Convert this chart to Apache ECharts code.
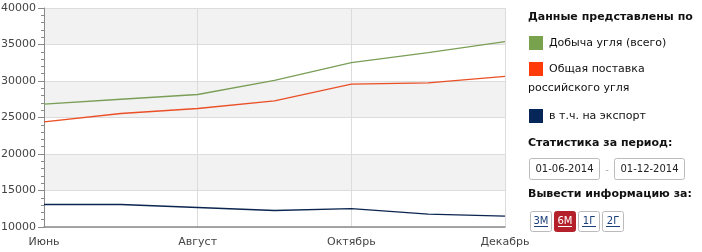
<!DOCTYPE html>
<html><head><meta charset="utf-8">
<script src="https://cdn.jsdelivr.net/npm/echarts@6/dist/echarts.min.js"></script>
<style>html,body{margin:0;padding:0;background:#fff}#c{width:702px;height:252px}</style>
</head><body><div id="c"></div>
<script>
const months = ['Июнь','Июль','Август','Сентябрь','Октябрь','Ноябрь','Декабрь'];
const seriesNames = ['Добыча угля (всего)','Общая поставка российского угля','в т.ч. на экспорт'];
const production = [26820, 27500, 28150, 30100, 32530, 33900, 35400];
const supply = [24400, 25550, 26230, 27270, 29560, 29740, 30620];
const exportVals = [13080, 13080, 12670, 12260, 12530, 11750, 11480];
const yTicks = [10000, 15000, 20000, 25000, 30000, 35000, 40000];
const periodFrom = '01-06-2014', periodTo = '01-12-2014';
const ranges = ['3М','6М','1Г','2Г'];

const lineColors = ['#7a9e57', '#ea4f26', '#0b2550'];
const swatchColors = ['#78a24e', '#ff3b0a', '#062659'];
const F = 'DejaVu Sans';

const chart = echarts.init(document.getElementById('c'), null, {renderer:'canvas'});
const mk = (name, data, i) => ({
  name, type:'line', data, symbol:'none', smooth:false,
  lineStyle:{color:lineColors[i], width:1.3}, itemStyle:{color:lineColors[i]},
  animation:false
});

const T = (x, y, text, font, fill, align) => ({type:'text', style:{x, y, text, font, fill, align:align||'left', verticalAlign:'middle'}});
const g = [];
g.push(T(528, 17, 'Данные представлены по', 'bold 11px "DejaVu Sans"', '#111'));
const legendTop = [36, 62, 109];
legendTop.forEach((t,i)=>{
  g.push({type:'rect', shape:{x:529, y:t, width:14, height:14}, style:{fill:swatchColors[i]}});
});
g.push(T(549, 43, 'Добыча угля (всего)', '11px "DejaVu Sans"', '#111'));
g.push(T(549, 69, 'Общая поставка', '11px "DejaVu Sans"', '#111'));
g.push(T(528, 88, 'российского угля', '11px "DejaVu Sans"', '#111'));
g.push(T(549, 116, 'в т.ч. на экспорт', '11px "DejaVu Sans"', '#111'));
g.push(T(528, 143, 'Статистика за период:', 'bold 11px "DejaVu Sans"', '#111'));
g.push({type:'rect', shape:{x:529.5, y:158.5, width:70, height:21, r:2}, style:{fill:'#fff', stroke:'#bbb'}});
g.push(T(564.5, 169, periodFrom, '10px "DejaVu Sans"', '#222', 'center'));
g.push(T(607, 170, '-', '10px "DejaVu Sans"', '#aaa', 'center'));
g.push({type:'rect', shape:{x:614.5, y:158.5, width:70, height:21, r:2}, style:{fill:'#fff', stroke:'#bbb'}});
g.push(T(649.5, 169, periodTo, '10px "DejaVu Sans"', '#222', 'center'));
g.push(T(528, 194, 'Вывести информацию за:', 'bold 11px "DejaVu Sans"', '#111'));
const btnX = [530, 554, 578, 602];
ranges.forEach((r,i)=>{
  const active = i===1;
  g.push({type:'rect', shape:{x:btnX[i]+0.5, y:211.5, width:21, height:20, r:2}, style:{fill:active?'#b5212b':'#fff', stroke:active?'#b5212b':'#bbb'}});
  g.push(T(btnX[i]+11, 221, r, '10px "DejaVu Sans"', active?'#fff':'#1a3f7a', 'center'));
  g.push({type:'line', shape:{x1:btnX[i]+4, y1:226.5, x2:btnX[i]+18, y2:226.5}, style:{stroke:active?'#fff':'#1a3f7a', lineWidth:1}});
});

chart.setOption({
  animation:false,
  grid:{left:44, right:197, top:8, bottom:25, containLabel:false, outerBoundsMode:'none'},
  xAxis:{type:'category', data:months, boundaryGap:false,
    axisLine:{lineStyle:{color:'#8a8a8a', width:1.5}},
    axisTick:{show:false},
    axisLabel:{interval:1, color:'#444', fontFamily:F, fontSize:11, margin:10},
    splitLine:{show:true, interval:1, lineStyle:{color:'#dcdcdc'}}
  },
  yAxis:{type:'value', min:yTicks[0], max:yTicks[yTicks.length-1], interval:5000,
    axisLine:{show:true, lineStyle:{color:'#8a8a8a'}},
    axisTick:{show:true, length:6, lineStyle:{color:'#8a8a8a'}},
    minorTick:{show:true, splitNumber:5, length:3, lineStyle:{color:'#8a8a8a'}},
    axisLabel:{color:'#444', fontFamily:F, fontSize:11, margin:8, formatter:v=>String(v)},
    splitLine:{show:true, lineStyle:{color:'#dcdcdc'}},
    splitArea:{show:true, areaStyle:{color:['#ffffff','#f2f2f2']}}
  },
  series:[mk(seriesNames[0], production, 0), mk(seriesNames[1], supply, 1), mk(seriesNames[2], exportVals, 2)],
  graphic:g
});
</script></body></html>
